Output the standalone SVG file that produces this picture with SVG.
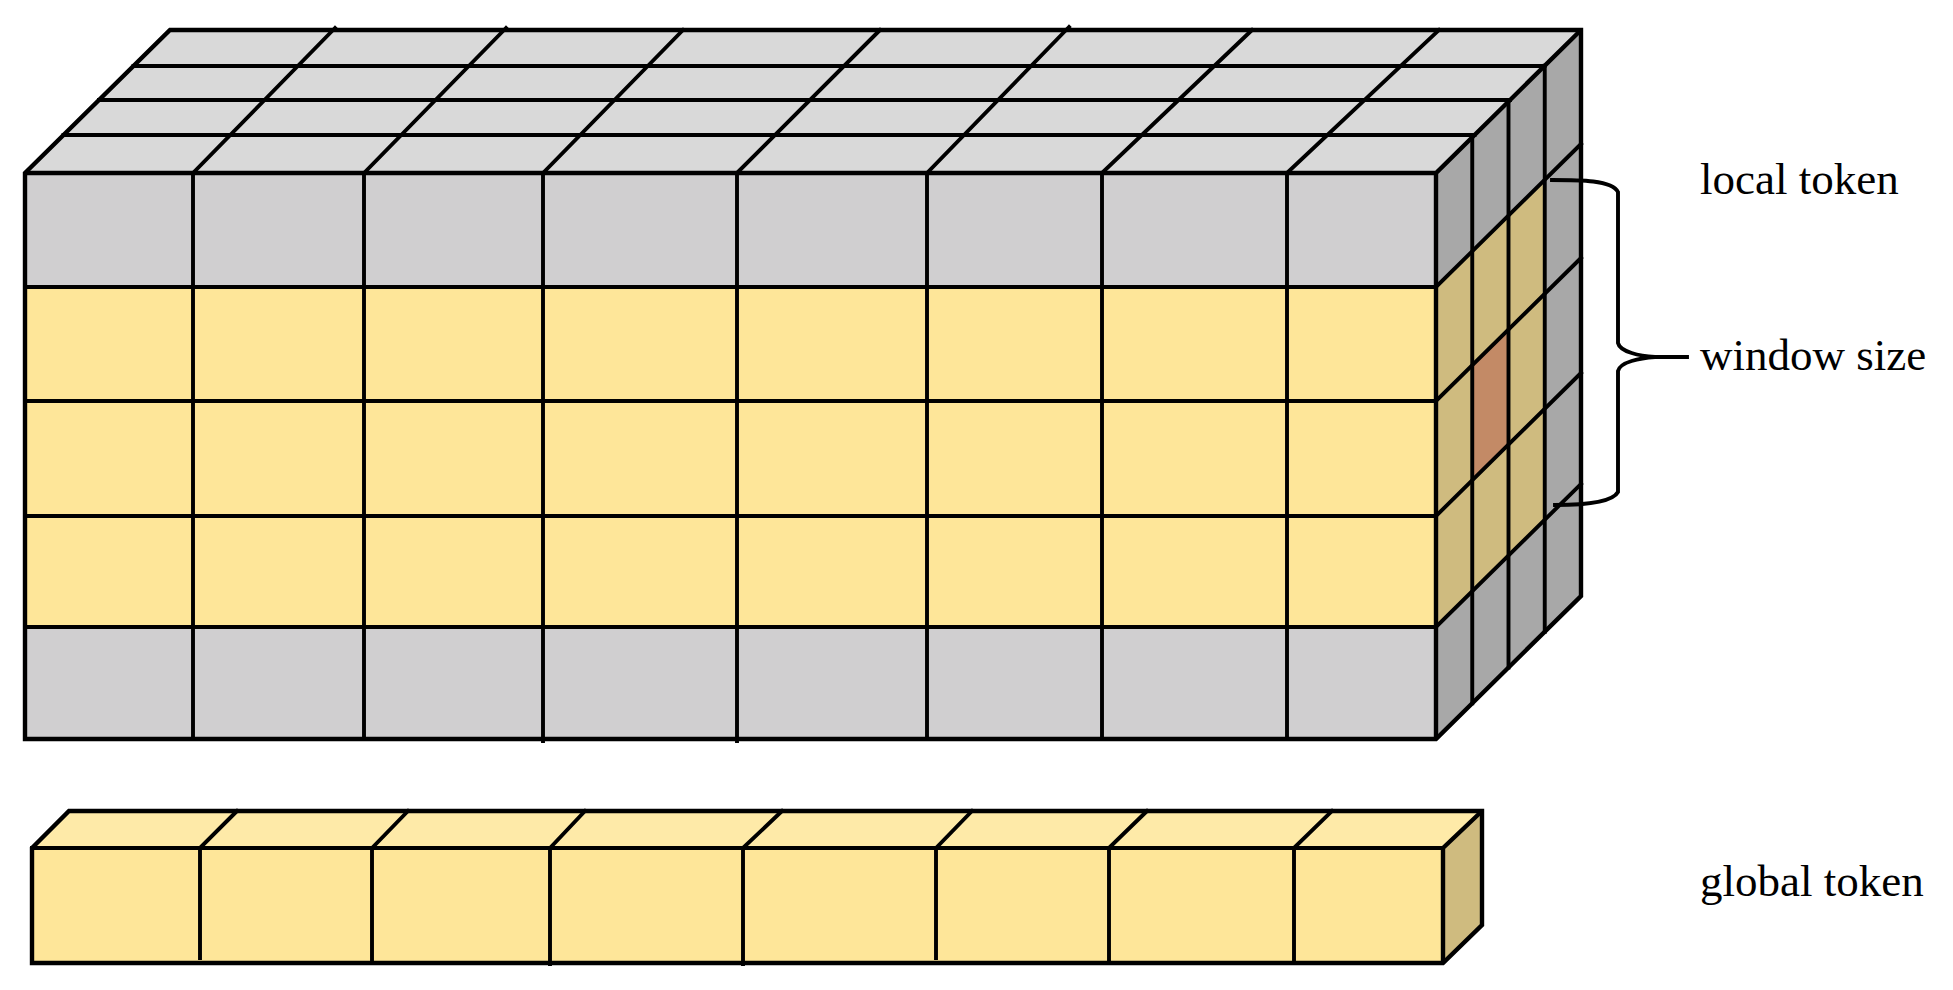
<svg xmlns="http://www.w3.org/2000/svg" width="1953" height="990" viewBox="0 0 1953 990">
<style>
.ln{stroke:#000;stroke-width:3.9;fill:none;stroke-linecap:square;stroke-linejoin:miter}
.edge{stroke:#000;stroke-width:4.4;fill:none;stroke-linejoin:miter}
.lbl{font-family:"Liberation Serif","Times New Roman",serif;font-size:45px;fill:#000}
</style>
<rect width="1953" height="990" fill="#fff"/>
<g id="local-token-block">
  <!-- top face -->
  <polygon points="25,173 170,30 1581,30 1436,173" fill="#d9d9d9"/>
  <!-- front face rows -->
  <rect x="25" y="173" width="1411" height="114" fill="#d0cfd0"/>
  <rect x="25" y="287" width="1411" height="340" fill="#fee699"/>
  <rect x="25" y="627" width="1411" height="112" fill="#d0cfd0"/>
  <!-- side face -->
  <polygon points="1436,173 1581,30 1581,596 1436,739" fill="#a8a8a8"/>
  <polygon points="1436,287 1544.75,179.75 1544.75,519.75 1436,627" fill="#cfbb7f"/>
  <polygon points="1472.25,365.25 1508.5,329.5 1508.5,444.5 1472.25,480.25" fill="#c38a66"/>
  <!-- top face grid -->
  <path class="ln" d="M63.5,135H1474.5M99,100H1510M133.5,66H1544.5"/>
  <path class="ln" d="M193,173L335,28M364,173L506,28M543,173L683,30M737,173L880,30M927,173L1069,27M1102,173L1252,30M1287,173L1439,30"/>
  <!-- front grid -->
  <path class="ln" d="M25,287H1436M25,401H1436M25,516H1436M25,627H1436"/>
  <path class="ln" d="M193,173V283M193,403V512M193,290V397M193,518V623M193,629V735"/>
  <path class="ln" d="M364,173V739M543,173V741M737,173V741M1102,173V739M1287,173V739"/>
  <path class="ln" d="M927,173V283M927,290V397M927,403V512M927,518V623M927,629V735"/>
  <!-- side grid -->
  <path class="ln" d="M1436,287L1581,144M1436,401L1581,258M1436,516L1581,373M1436,627L1581,484"/>
  <path class="ln" d="M1472.25,137.25V703.25M1508.5,101.5V667.5M1544.75,65.75V631.75"/>
  <!-- outline -->
  <path class="edge" d="M25,173L170,30H1581V596L1436,739H25Z"/>
  <path class="edge" d="M25,173H1436L1581,30M1436,173V739"/>
</g>
<g id="global-token-bar">
  <polygon points="32,848 69,811 1482,811 1443,848" fill="#feeaa8"/>
  <rect x="32" y="848" width="1411" height="115" fill="#fee699"/>
  <polygon points="1443,848 1482,811 1482,925 1443,963" fill="#cfbb7f"/>
  <path class="ln" d="M200,848L237,811M372,848L408,811M550,848L585,811M743,848L782,811M936,848L972,811M1109,848L1147,811M1294,848L1332,811"/>
  <path class="ln" d="M200,848V958M372,848V963M550,852V964M743,852V964M936,848V958M1109,848V963M1294,848V963"/>
  <path class="ln" d="M32,848H1443"/>
  <path class="edge" d="M32,848L69,811H1482V925L1443,963H32Z"/>
  <path class="edge" d="M1443,848L1482,811M1443,848V963"/>
</g>
<g id="connectors">
  <path class="ln" stroke-linecap="butt" d="M1552,180C1580,180 1612,180 1618,192L1618,343C1620,352 1640,356 1655,357L1687,357M1655,357C1640,358 1620,362 1618,371L1618,492C1612,503 1580,505 1555,505"/>
</g>
<g id="labels">
  <text class="lbl" x="1700" y="194">local token</text>
  <text class="lbl" x="1700" y="370">window size</text>
  <text class="lbl" x="1700" y="896">global token</text>
</g>
</svg>
